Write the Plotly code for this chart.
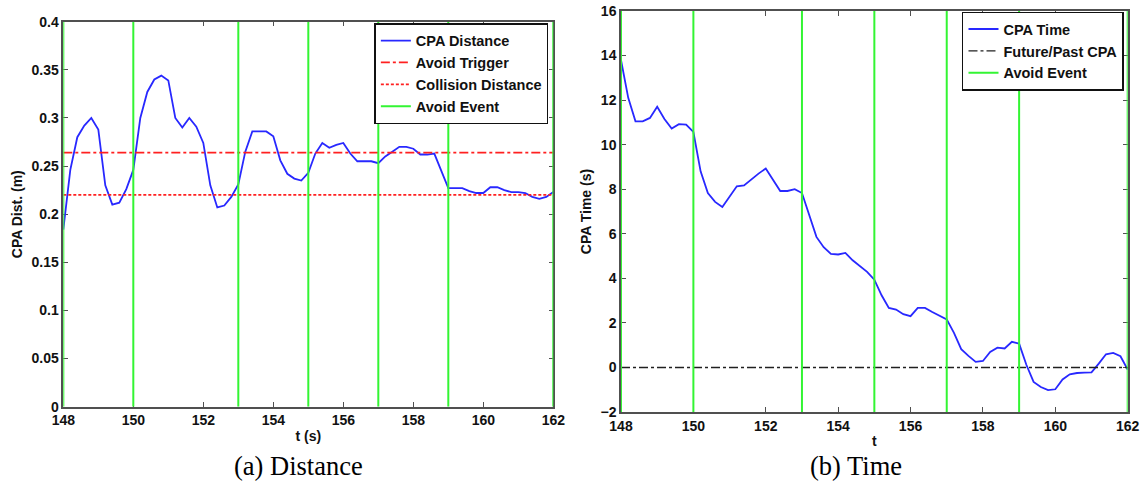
import plotly.graph_objects as go

# ---- data -------------------------------------------------------------
t_dist = [148.0, 148.1, 148.2, 148.4, 148.6, 148.8, 149.0, 149.2, 149.4, 149.6,
          149.8, 150.0, 150.2, 150.4, 150.6, 150.8, 151.0, 151.2, 151.4, 151.6,
          151.8, 152.0, 152.2, 152.4, 152.6, 152.8, 153.0, 153.2, 153.4, 153.6,
          153.8, 154.0, 154.2, 154.4, 154.6, 154.8, 155.0, 155.2, 155.4, 155.6,
          155.8, 156.0, 156.2, 156.4, 156.6, 156.8, 157.0, 157.2, 157.4, 157.6,
          157.8, 158.0, 158.2, 158.4, 158.6, 158.8, 159.0, 159.2, 159.4, 159.6,
          159.8, 160.0, 160.2, 160.4, 160.6, 160.8, 161.0, 161.2, 161.4, 161.6,
          161.8, 162.0]
cpa_dist = [0.184, 0.215, 0.246, 0.280, 0.292, 0.300, 0.288, 0.230, 0.210, 0.212,
            0.226, 0.246, 0.300, 0.327, 0.340, 0.344, 0.339, 0.300, 0.290, 0.300,
            0.291, 0.274, 0.230, 0.207, 0.209, 0.218, 0.231, 0.265, 0.286, 0.286,
            0.286, 0.281, 0.256, 0.242, 0.237, 0.235, 0.243, 0.263, 0.274, 0.269,
            0.272, 0.274, 0.263, 0.255, 0.255, 0.255, 0.253, 0.260, 0.265, 0.270,
            0.270, 0.268, 0.262, 0.262, 0.263, 0.244, 0.227, 0.227, 0.227, 0.224,
            0.222, 0.222, 0.228, 0.228, 0.225, 0.223, 0.223, 0.222, 0.218, 0.216,
            0.218, 0.223]

t_time = [148.0, 148.1, 148.2, 148.4, 148.6, 148.8, 149.0, 149.2, 149.4, 149.6,
          149.8, 150.0, 150.2, 150.4, 150.6, 150.8, 151.0, 151.2, 151.4, 151.6,
          151.8, 152.0, 152.2, 152.4, 152.6, 152.8, 153.0, 153.2, 153.4, 153.6,
          153.8, 154.0, 154.2, 154.4, 154.6, 154.8, 155.0, 155.2, 155.4, 155.6,
          155.8, 156.0, 156.2, 156.4, 156.6, 156.8, 157.0, 157.2, 157.4, 157.6,
          157.8, 158.0, 158.2, 158.4, 158.6, 158.8, 159.0, 159.2, 159.4, 159.6,
          159.8, 160.0, 160.2, 160.4, 160.6, 160.8, 161.0, 161.2, 161.4, 161.6,
          161.8, 162.0]
cpa_time = [13.8, 12.9, 12.1, 11.05, 11.05, 11.2, 11.7, 11.15, 10.72, 10.92,
            10.9, 10.57, 8.8, 7.83, 7.43, 7.2, 7.65, 8.13, 8.17, 8.45,
            8.7, 8.93, 8.4, 7.92, 7.92, 8.0, 7.83, 6.8, 5.86, 5.4,
            5.1, 5.07, 5.14, 4.81, 4.55, 4.29, 3.94, 3.24, 2.67, 2.6,
            2.39, 2.3, 2.67, 2.67, 2.49, 2.31, 2.16, 1.55, 0.82, 0.52,
            0.25, 0.29, 0.7, 0.89, 0.85, 1.15, 1.07, 0.12, -0.65, -0.88,
            -1.02, -0.98, -0.54, -0.31, -0.25, -0.23, -0.22, 0.17, 0.59, 0.65,
            0.5, -0.1]

avoid_events = [148, 150, 153, 155, 157, 159, 162]
avoid_trigger = 0.264
collision_distance = 0.22
future_past_cpa = 0.0

t_range = [148, 162]
dist_range = [0, 0.4]
time_range = [-2, 16]
t_ticks = [148, 150, 152, 154, 156, 158, 160, 162]
dist_ticks = [0, 0.05, 0.1, 0.15, 0.2, 0.25, 0.3, 0.35, 0.4]
time_ticks = [-2, 0, 2, 4, 6, 8, 10, 12, 14, 16]

# ---- styling ----------------------------------------------------------
BLUE = "#2828ff"
RED = "#ff2020"
GREEN = "#33f533"
AXIS = "#505050"
SANS = "Liberation Sans"
SERIF = "Liberation Serif"


def event_lines(events, lo, hi):
    xs, ys = [], []
    for e in events:
        xs += [e, e, None]
        ys += [lo, hi, None]
    return xs, ys


fig = go.Figure()

# left panel: CPA distance
fig.add_trace(go.Scatter(x=t_dist, y=cpa_dist, mode="lines", name="CPA Distance",
                         line=dict(color=BLUE, width=1.8),
                         xaxis="x", yaxis="y", legend="legend"))
fig.add_trace(go.Scatter(x=t_range, y=[avoid_trigger] * 2, mode="lines",
                         name="Avoid Trigger",
                         line=dict(color=RED, width=1.7, dash="dashdot"),
                         xaxis="x", yaxis="y", legend="legend"))
fig.add_trace(go.Scatter(x=t_range, y=[collision_distance] * 2, mode="lines",
                         name="Collision Distance",
                         line=dict(color=RED, width=1.7, dash="3px,2px"),
                         xaxis="x", yaxis="y", legend="legend"))
ex, ey = event_lines(avoid_events, dist_range[0], dist_range[1])
fig.add_trace(go.Scatter(x=ex, y=ey, mode="lines", name="Avoid Event",
                         line=dict(color=GREEN, width=2),
                         xaxis="x", yaxis="y", legend="legend"))

# right panel: CPA time
fig.add_trace(go.Scatter(x=t_time, y=cpa_time, mode="lines", name="CPA Time",
                         line=dict(color=BLUE, width=1.8),
                         xaxis="x2", yaxis="y2", legend="legend2"))
fig.add_trace(go.Scatter(x=t_range, y=[future_past_cpa] * 2, mode="lines",
                         name="Future/Past CPA",
                         line=dict(color="#202020", width=1.4, dash="dashdot"),
                         xaxis="x2", yaxis="y2", legend="legend2"))
ex2, ey2 = event_lines(avoid_events, time_range[0], time_range[1])
fig.add_trace(go.Scatter(x=ex2, y=ey2, mode="lines", name="Avoid Event",
                         line=dict(color=GREEN, width=2),
                         xaxis="x2", yaxis="y2", legend="legend2"))

tick_font = dict(family=SANS, size=14, color="#111", weight="bold")
title_font = dict(family=SANS, size=14, color="#111", weight="bold")

axis_common = dict(showline=True, linecolor=AXIS, linewidth=1.5, mirror="ticks",
                   ticks="inside", ticklen=5, tickwidth=1.3, tickcolor=AXIS,
                   showgrid=False, zeroline=False, tickfont=tick_font,
                   layer="below traces", automargin=False)

legend_common = dict(bgcolor="white", bordercolor="#111", borderwidth=1.5,
                     font=dict(family=SANS, size=14.5, color="#111", weight="bold"),
                     xanchor="right", yanchor="top", tracegroupgap=0,
                     itemwidth=30)

fig.update_layout(
    width=1146, height=483,
    margin=dict(l=0, r=0, t=0, b=0, autoexpand=False),
    paper_bgcolor="white", plot_bgcolor="white",
    showlegend=True,
    xaxis=dict(domain=[0.05524, 0.48281], range=t_range, tickvals=t_ticks,
               title=dict(text="t (s)", font=title_font, standoff=4),
               anchor="y", **axis_common),
    yaxis=dict(domain=[0.15797, 0.95507], range=dist_range, tickvals=dist_ticks,
               title=dict(text="CPA Dist. (m)", font=title_font, standoff=6),
               anchor="x", **axis_common),
    xaxis2=dict(domain=[0.54188, 0.98403], range=t_range, tickvals=t_ticks,
                title=dict(text="t", font=title_font, standoff=4),
                anchor="y2", **axis_common),
    yaxis2=dict(domain=[0.14700, 0.97723], range=time_range, tickvals=time_ticks,
                title=dict(text="CPA Time (s)", font=title_font, standoff=6),
                anchor="x2", **axis_common),
    legend=dict(x=0.4785, y=0.952, **legend_common),
    legend2=dict(x=0.9808, y=0.976, **legend_common),
    annotations=[
        dict(text="(a) Distance", x=0.2609, y=0.035, xref="paper", yref="paper",
             xanchor="center", yanchor="middle", showarrow=False,
             font=dict(family=SERIF, size=26.5, color="black")),
        dict(text="(b) Time", x=0.747, y=0.035, xref="paper", yref="paper",
             xanchor="center", yanchor="middle", showarrow=False,
             font=dict(family=SERIF, size=26.5, color="black")),
    ],
)

fig.write_html("out.html")
